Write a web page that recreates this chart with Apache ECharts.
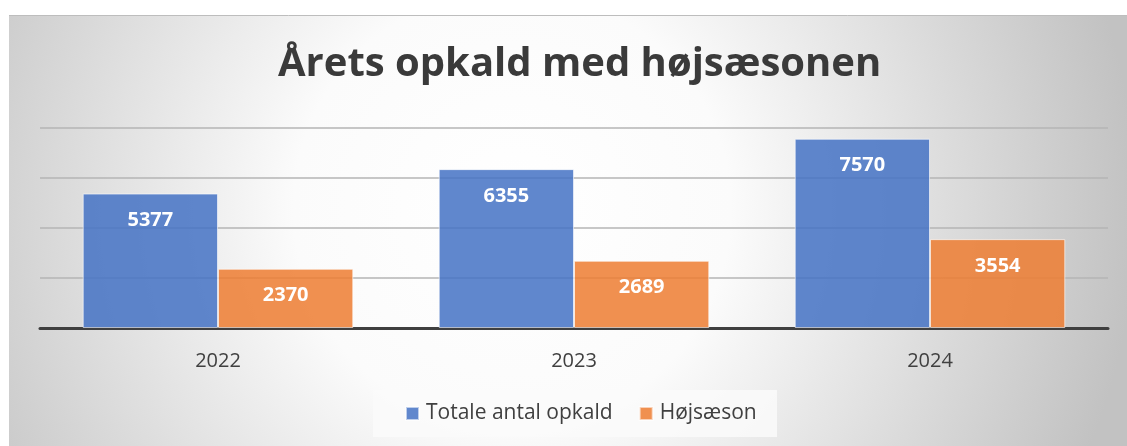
<!DOCTYPE html>
<html>
<head>
<meta charset="utf-8">
<script src="https://cdn.jsdelivr.net/npm/echarts@6/dist/echarts.min.js"></script>
<style>
html,body{margin:0;padding:0;background:#ffffff;}
#main{width:1127px;height:446px;}
</style>
</head>
<body>
<div id="main"></div>
<script>
const titleText = 'Årets opkald med højsæsonen';
const categories = ['2022', '2023', '2024'];
const seriesNames = ['Totale antal opkald', 'Højsæson'];
const totalCalls = [5377, 6355, 7570];
const peakSeason = [2370, 2689, 3554];
const yTicks = [0, 2000, 4000, 6000, 8000];

const chart = echarts.init(document.getElementById('main'), null, {renderer: 'canvas'});
const W = 1127, H = 446;
const fontFam = '"Open Sans", "Noto Sans", sans-serif';

const option = {
  backgroundColor: '#ffffff',
  animation: false,
  graphic: [
    {
      type: 'rect', z: -10, silent: true,
      shape: {x: 9, y: 15, width: W - 9, height: H - 15},
      style: {
        fill: {
          type: 'radial', x: 0.45, y: 0.45, r: 1.45,
          colorStops: [
            {offset: 0, color: '#ffffff'},
            {offset: 0.35, color: '#fbfbfb'},
            {offset: 1, color: '#c2c2c2'}
          ]
        }
      }
    },
    {
      type: 'line', z: -9, silent: true,
      shape: {x1: 9, y1: 15.5, x2: W, y2: 15.5},
      style: {stroke: '#bdbdbd', lineWidth: 1}
    },
    {
      type: 'rect', z: -8, silent: true,
      shape: {x: 373, y: 390, width: 404, height: 47},
      style: {fill: 'rgba(250,250,250,0.85)'}
    }
  ],
  title: {
    text: titleText,
    left: 273,
    top: 40,
    textStyle: {
      fontFamily: fontFam,
      fontWeight: 'bold',
      fontSize: 40,
      color: '#3a3a3a'
    }
  },
  legend: {
    data: seriesNames,
    bottom: 17,
    left: 400,
    itemWidth: 13,
    itemHeight: 13,
    itemGap: 26,
    icon: 'rect',
    textStyle: {fontFamily: fontFam, fontSize: 21, color: '#404040', padding: [0, 0, 0, 2]}
  },
  grid: {left: 40, right: 19, top: 128, bottom: 118, containLabel: false},
  xAxis: {
    type: 'category',
    data: categories,
    axisLine: {show: true, lineStyle: {color: '#3f3f3f', width: 3}},
    axisTick: {show: false},
    axisLabel: {fontFamily: fontFam, fontSize: 20, color: '#404040', margin: 23}
  },
  yAxis: {
    type: 'value',
    min: yTicks[0],
    max: yTicks[yTicks.length - 1],
    interval: yTicks[1] - yTicks[0],
    axisLabel: {show: false},
    axisLine: {show: false},
    axisTick: {show: false},
    splitLine: {lineStyle: {color: '#b4b4b4', width: 1.5}}
  },
  series: [
    {
      name: seriesNames[0],
      type: 'bar',
      data: totalCalls,
      barGap: '0%',
      barCategoryGap: '24%',
      itemStyle: {color: 'rgba(68,114,196,0.85)', borderColor: 'rgba(255,255,255,0.6)', borderWidth: 1},
      label: {show: true, position: 'insideTop', distance: 17, color: '#ffffff', fontFamily: fontFam, fontWeight: 'bold', fontSize: 20}
    },
    {
      name: seriesNames[1],
      type: 'bar',
      data: peakSeason,
      itemStyle: {color: 'rgba(237,125,49,0.85)', borderColor: 'rgba(255,255,255,0.6)', borderWidth: 1},
      label: {show: true, position: 'insideTop', distance: 17, color: '#ffffff', fontFamily: fontFam, fontWeight: 'bold', fontSize: 20}
    }
  ]
};
chart.setOption(option);
</script>
</body>
</html>
